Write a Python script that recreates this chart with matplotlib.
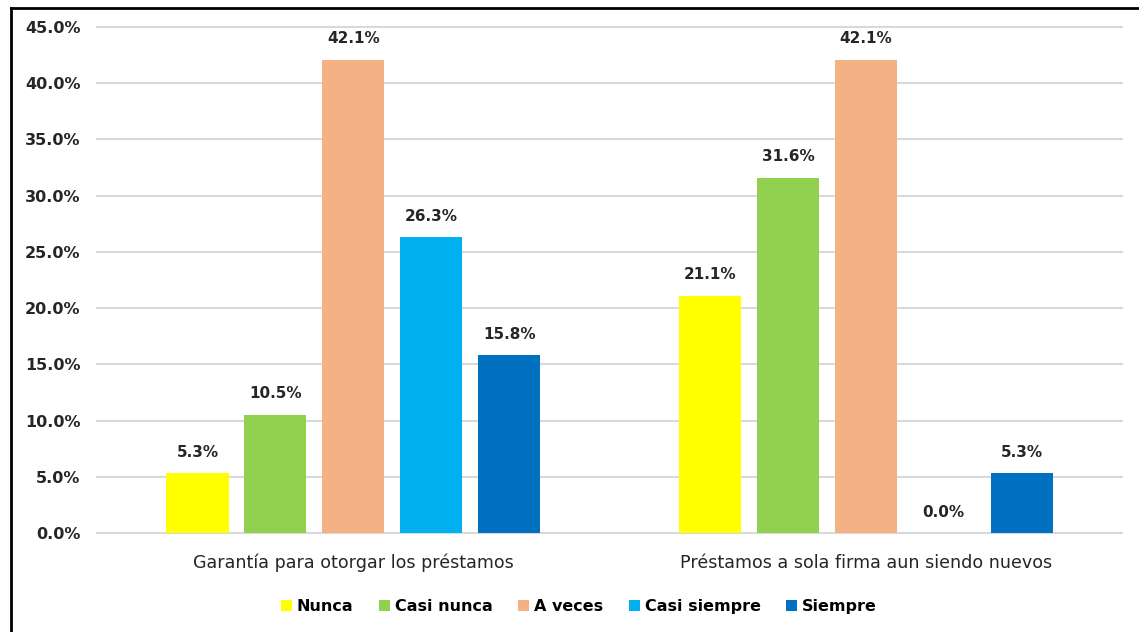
import matplotlib.pyplot as plt
import numpy as np
from matplotlib.lines import Line2D

categories = ['Garantía para otorgar los préstamos', 'Préstamos a sola firma aun siendo nuevos']
series = ['Nunca', 'Casi nunca', 'A veces', 'Casi siempre', 'Siempre']
values = [[5.3, 21.1], [10.5, 31.6], [42.1, 42.1], [26.3, 0.0], [15.8, 5.3]]
colors = ['#FFFF00', '#92D050', '#F4B183', '#00B0F0', '#0070C0']

plt.rcParams['font.family'] = ['DejaVu Sans']

fig = plt.figure(figsize=(11.39, 6.32), dpi=100)
ax = fig.add_axes([0.0852, 0.1566, 0.9000, 0.8007])

x = np.arange(len(categories))
step = 0.152
width = 0.121
for i, (name, vals, c) in enumerate(zip(series, values, colors)):
    pos = x + (i - 2) * step
    bars = ax.bar(pos, vals, width, color=c, label=name, zorder=3)
    for b, v in zip(bars, vals):
        ax.text(b.get_x() + b.get_width() / 2, v + 1.2, '%.1f%%' % v,
                ha='center', va='bottom', fontsize=11, fontweight='bold', color='#262626')

ax.set_xlim(-0.5, 1.5)
ax.set_ylim(0, 45)
ax.set_yticks(np.arange(0, 46, 5))
ax.set_yticklabels(['%.1f%%' % t for t in np.arange(0, 46, 5)], fontsize=11.5, fontweight='bold', color='#262626')
ax.set_xticks(x)
ax.set_xticklabels(categories, fontsize=12.6, color='#262626')
for t in ax.get_xticklabels():
    t.set_verticalalignment('baseline')
ax.tick_params(axis='both', length=0)
ax.tick_params(axis='y', pad=12)
ax.tick_params(axis='x', pad=25)
ax.yaxis.grid(True, color='#D9D9D9', linewidth=1.5, zorder=0)
for g in ax.get_ygridlines():
    g.set_clip_on(False)
for s in ax.spines.values():
    s.set_visible(False)

ax.legend(loc='center', bbox_to_anchor=(0.47, -0.145), ncol=5, frameon=False,
          handlelength=0.7, handleheight=0.7, handletextpad=0.3,
          columnspacing=1.6, prop={'size': 11.5, 'weight': 'bold'})

fig.add_artist(Line2D([11 / 1139, 11 / 1139], [0, 1 - 8 / 632], color='black', linewidth=2, transform=fig.transFigure))
fig.add_artist(Line2D([11 / 1139, 1], [1 - 8 / 632, 1 - 8 / 632], color='black', linewidth=2, transform=fig.transFigure))

fig.savefig('out.png', dpi=100)
